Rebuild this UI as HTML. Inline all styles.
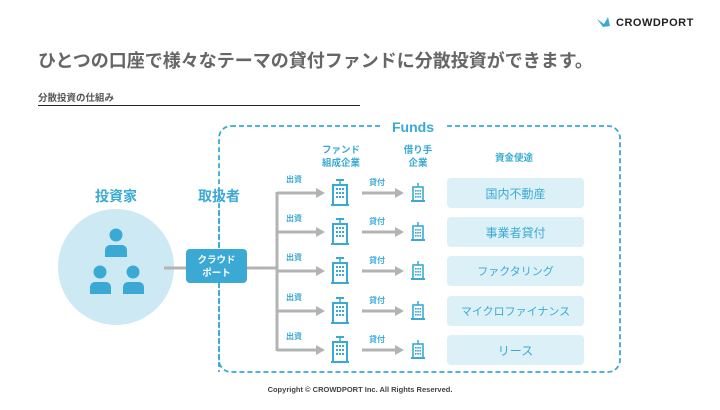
<!DOCTYPE html>
<html><head><meta charset="utf-8"><style>
body{margin:0;width:720px;height:405px;background:#fff;overflow:hidden;font-family:"Liberation Sans","Noto Sans CJK JP",sans-serif}
text{font-family:"Liberation Sans","Noto Sans CJK JP",sans-serif;font-weight:bold}
</style></head><body>
<svg width="720" height="405" viewBox="0 0 720 405" xmlns="http://www.w3.org/2000/svg">
<defs>
<g id="bld">
 <line x1="0" y1="-12" x2="0" y2="-8" stroke="#3aaad4" stroke-width="1.5"/>
 <rect x="-4" y="-14" width="8" height="2" fill="#3aaad4"/>
 <rect x="-7" y="-8" width="14" height="20" fill="#fff" stroke="#3aaad4" stroke-width="2"/>
 <g fill="#3aaad4">
  <rect x="-4" y="-5" width="2" height="2"/><rect x="-1" y="-5" width="2" height="2"/><rect x="2" y="-5" width="2" height="2"/>
  <rect x="-4" y="-1" width="2" height="2"/><rect x="-1" y="-1" width="2" height="2"/><rect x="2" y="-1" width="2" height="2"/>
  <rect x="-4" y="3" width="2" height="2"/><rect x="-1" y="3" width="2" height="2"/><rect x="2" y="3" width="2" height="2"/>
 </g>
 <rect x="-9" y="11" width="18" height="2" fill="#3aaad4"/>
</g>
<g id="sbld">
 <line x1="0" y1="-10" x2="0" y2="-6" stroke="#3aaad4" stroke-width="1.5"/>
 <rect x="-5" y="-6" width="10" height="14" fill="#fff" stroke="#3aaad4" stroke-width="1.6"/>
 <g fill="#3aaad4">
  <rect x="-3" y="-3" width="1.6" height="1.6"/><rect x="-0.8" y="-3" width="1.6" height="1.6"/><rect x="1.4" y="-3" width="1.6" height="1.6"/>
  <rect x="-3" y="0" width="1.6" height="1.6"/><rect x="-0.8" y="0" width="1.6" height="1.6"/><rect x="1.4" y="0" width="1.6" height="1.6"/>
  <rect x="-3" y="3" width="1.6" height="1.6"/><rect x="-0.8" y="3" width="1.6" height="1.6"/><rect x="1.4" y="3" width="1.6" height="1.6"/>
 </g>
 <rect x="-7" y="7" width="14" height="2" fill="#3aaad4"/>
</g>
</defs>
<!-- logo -->
<path d="M597 19 L604 24 L608 17 L610 26 L603 27 Z" fill="#3aaad4"/>
<text x="616" y="26" font-size="11" fill="#222" letter-spacing="0.5">CROWDPORT</text>
<text x="38" y="67" font-size="18" fill="#666">ひとつの口座で様々なテーマの貸付ファンドに分散投資ができます。</text>
<text x="38" y="101" font-size="9.5" fill="#555">分散投資の仕組み</text>
<line x1="38" y1="105.5" x2="360" y2="105.5" stroke="#222" stroke-width="1"/>
<!-- dashed box -->
<rect x="219" y="126" width="401" height="246" rx="12" fill="none" stroke="#3aaad4" stroke-width="1.8" stroke-dasharray="5,3"/>
<rect x="380" y="118" width="66" height="16" fill="#fff"/>
<text x="413" y="132" font-size="14" fill="#3aaad4" text-anchor="middle">Funds</text>
<!-- vertical dashed -->
<line x1="219" y1="210" x2="219" y2="372" stroke="#3aaad4" stroke-width="1.8" stroke-dasharray="5,3"/>
<text x="116" y="201" font-size="14" fill="#3aaad4" text-anchor="middle">投資家</text>
<text x="219" y="201" font-size="14" fill="#3aaad4" text-anchor="middle">取扱者</text>
<circle cx="116" cy="267" r="58" fill="#cde9f4"/>
<g fill="#3aaad4">
 <circle cx="116" cy="235" r="6.5"/><path d="M105 257 v-7 a5 5 0 0 1 5 -5 h12 a5 5 0 0 1 5 5 v7 z"/>
 <circle cx="100" cy="272" r="6.5"/><path d="M90 294 v-7 a5 5 0 0 1 5 -5 h11 a5 5 0 0 1 5 5 v7 z"/>
 <circle cx="133" cy="272" r="6.5"/><path d="M123 294 v-7 a5 5 0 0 1 5 -5 h11 a5 5 0 0 1 5 5 v7 z"/>
</g>
<line x1="164" y1="268" x2="186" y2="268" stroke="#b3b3b3" stroke-width="3"/>
<line x1="247" y1="268" x2="277" y2="268" stroke="#b3b3b3" stroke-width="3"/>
<rect x="186" y="249" width="61" height="34" rx="4" fill="#3aaad4"/>
<text x="216.5" y="263" font-size="9.5" fill="#fff" text-anchor="middle">クラウド</text>
<text x="216.5" y="276" font-size="9.5" fill="#fff" text-anchor="middle">ポート</text>
<line x1="277" y1="192" x2="277" y2="351" stroke="#b3b3b3" stroke-width="3"/>
<text x="341" y="153" font-size="9.5" fill="#3aaad4" text-anchor="middle">ファンド</text>
<text x="341" y="166" font-size="9.5" fill="#3aaad4" text-anchor="middle">組成企業</text>
<text x="418" y="153" font-size="9.5" fill="#3aaad4" text-anchor="middle">借り手</text>
<text x="418" y="166" font-size="9.5" fill="#3aaad4" text-anchor="middle">企業</text>
<text x="514" y="161" font-size="9.5" fill="#3aaad4" text-anchor="middle">資金使途</text>
<g id="rows">
</g>
<g font-size="8" fill="#3aaad4">
<!-- row template repeated -->
</g>
<g>
 <g transform="translate(0,193)">
  <line x1="277" y1="0" x2="318" y2="0" stroke="#b3b3b3" stroke-width="3"/><path d="M316 -5 L325 0 L316 5Z" fill="#b3b3b3"/>
  <text x="286" y="-11" font-size="8" fill="#3aaad4">出資</text>
  <use href="#bld" x="340" y="0"/>
  <line x1="362" y1="0" x2="397" y2="0" stroke="#b3b3b3" stroke-width="3"/><path d="M395 -5 L404 0 L395 5Z" fill="#b3b3b3"/>
  <text x="369" y="-8" font-size="8" fill="#3aaad4">貸付</text>
  <use href="#sbld" x="418" y="0"/>
  <rect x="447" y="-15" width="137" height="30" rx="4" fill="#dcf0f8"/>
  <text x="515.5" y="5" font-size="12" fill="#3aaad4" font-weight="normal" style="font-weight:normal" text-anchor="middle">国内不動産</text>
 </g>
 <g transform="translate(0,232)">
  <line x1="277" y1="0" x2="318" y2="0" stroke="#b3b3b3" stroke-width="3"/><path d="M316 -5 L325 0 L316 5Z" fill="#b3b3b3"/>
  <text x="286" y="-11" font-size="8" fill="#3aaad4">出資</text>
  <use href="#bld" x="340" y="0"/>
  <line x1="362" y1="0" x2="397" y2="0" stroke="#b3b3b3" stroke-width="3"/><path d="M395 -5 L404 0 L395 5Z" fill="#b3b3b3"/>
  <text x="369" y="-8" font-size="8" fill="#3aaad4">貸付</text>
  <use href="#sbld" x="418" y="0"/>
  <rect x="447" y="-15" width="137" height="30" rx="4" fill="#dcf0f8"/>
  <text x="515.5" y="5" font-size="12" fill="#3aaad4" style="font-weight:normal" text-anchor="middle">事業者貸付</text>
 </g>
 <g transform="translate(0,271)">
  <line x1="277" y1="0" x2="318" y2="0" stroke="#b3b3b3" stroke-width="3"/><path d="M316 -5 L325 0 L316 5Z" fill="#b3b3b3"/>
  <text x="286" y="-11" font-size="8" fill="#3aaad4">出資</text>
  <use href="#bld" x="340" y="0"/>
  <line x1="362" y1="0" x2="397" y2="0" stroke="#b3b3b3" stroke-width="3"/><path d="M395 -5 L404 0 L395 5Z" fill="#b3b3b3"/>
  <text x="369" y="-8" font-size="8" fill="#3aaad4">貸付</text>
  <use href="#sbld" x="418" y="0"/>
  <rect x="447" y="-15" width="137" height="30" rx="4" fill="#dcf0f8"/>
  <text x="515.5" y="4" font-size="11" fill="#3aaad4" style="font-weight:normal" text-anchor="middle">ファクタリング</text>
 </g>
 <g transform="translate(0,311)">
  <line x1="277" y1="0" x2="318" y2="0" stroke="#b3b3b3" stroke-width="3"/><path d="M316 -5 L325 0 L316 5Z" fill="#b3b3b3"/>
  <text x="286" y="-11" font-size="8" fill="#3aaad4">出資</text>
  <use href="#bld" x="340" y="0"/>
  <line x1="362" y1="0" x2="397" y2="0" stroke="#b3b3b3" stroke-width="3"/><path d="M395 -5 L404 0 L395 5Z" fill="#b3b3b3"/>
  <text x="369" y="-8" font-size="8" fill="#3aaad4">貸付</text>
  <use href="#sbld" x="418" y="0"/>
  <rect x="447" y="-15" width="137" height="30" rx="4" fill="#dcf0f8"/>
  <text x="515.5" y="4" font-size="11" fill="#3aaad4" style="font-weight:normal" text-anchor="middle">マイクロファイナンス</text>
 </g>
 <g transform="translate(0,350)">
  <line x1="277" y1="0" x2="318" y2="0" stroke="#b3b3b3" stroke-width="3"/><path d="M316 -5 L325 0 L316 5Z" fill="#b3b3b3"/>
  <text x="286" y="-11" font-size="8" fill="#3aaad4">出資</text>
  <use href="#bld" x="340" y="0"/>
  <line x1="362" y1="0" x2="397" y2="0" stroke="#b3b3b3" stroke-width="3"/><path d="M395 -5 L404 0 L395 5Z" fill="#b3b3b3"/>
  <text x="369" y="-8" font-size="8" fill="#3aaad4">貸付</text>
  <use href="#sbld" x="418" y="0"/>
  <rect x="447" y="-15" width="137" height="30" rx="4" fill="#dcf0f8"/>
  <text x="515.5" y="5" font-size="12" fill="#3aaad4" style="font-weight:normal" text-anchor="middle">リース</text>
 </g>
</g>
<text x="360" y="392" font-size="7.5" fill="#444" text-anchor="middle">Copyright © CROWDPORT Inc. All Rights Reserved.</text>
</svg>
</body></html>
